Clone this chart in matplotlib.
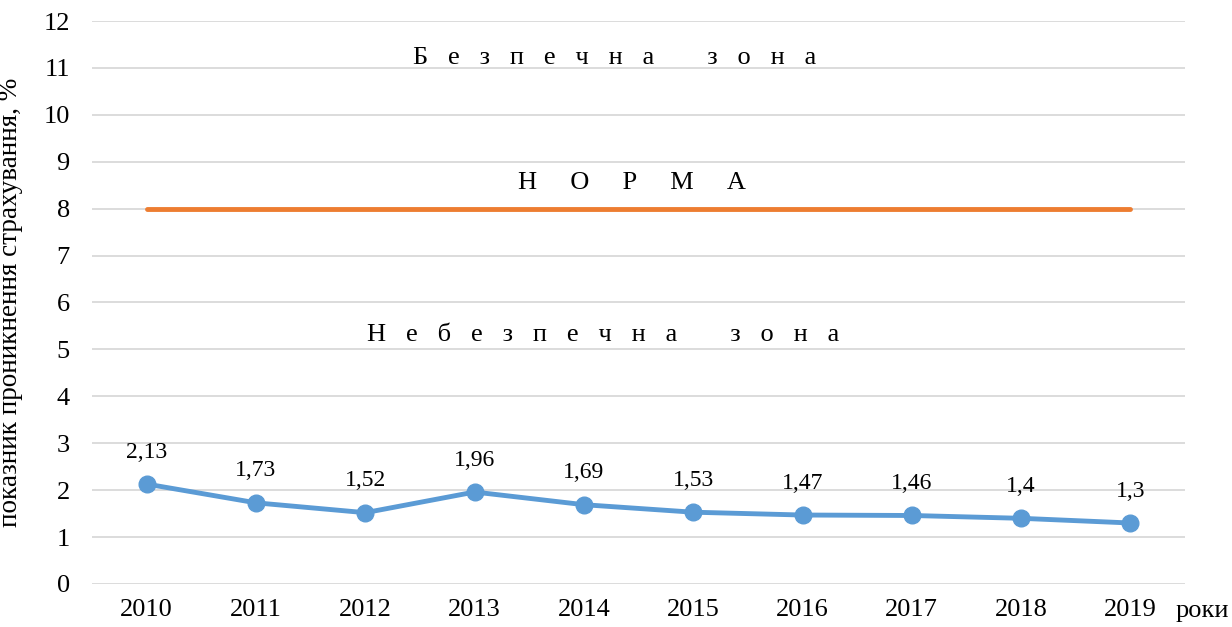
import matplotlib
matplotlib.use("Agg")
import matplotlib.pyplot as plt

years = ["2010", "2011", "2012", "2013", "2014", "2015", "2016", "2017", "2018", "2019"]
values = [2.13, 1.73, 1.52, 1.96, 1.69, 1.53, 1.47, 1.46, 1.4, 1.3]
value_labels = ["2,13", "1,73", "1,52", "1,96", "1,69", "1,53", "1,47", "1,46", "1,4", "1,3"]
norm = [8] * 10
y_ticks = list(range(0, 13))

plt.rcParams['font.family'] = ['Liberation Serif', 'DejaVu Serif']

fig = plt.figure(figsize=(12.32, 6.27), dpi=100)
ax = fig.add_axes([0.0747, 0.0686, 0.8872, 0.8979])

x = list(range(len(years)))
ax.plot(x, norm, color="#ED7D31", lw=3.5, solid_capstyle="round", zorder=3)
ax.plot(x, values, color="#5B9BD5", lw=3.5, marker="o", markersize=12, zorder=4,
        solid_capstyle="round")
for xi, v, lab in zip(x, values, value_labels):
    ax.annotate(lab, (xi, v), xytext=(0, 23), textcoords="offset points",
                ha="center", va="center", fontsize=17, color="#000000")

ax.set_xlim(-0.5, len(years) - 0.5)
ax.set_ylim(0, 12)
ax.set_yticks(y_ticks)
ax.set_xticks(x)
ax.set_xticklabels(years)
ax.tick_params(axis="both", length=0, labelsize=19, colors="#000000")
ax.tick_params(axis="x", pad=11)
ax.tick_params(axis="y", pad=16)
ax.grid(axis="y", color="#D9D9D9", lw=1.3)
ax.set_axisbelow(True)
for s in ax.spines.values():
    s.set_visible(False)

ax.set_ylabel("показник проникнення страхування, %", fontsize=19.5)
ax.yaxis.set_label_coords(-0.063, 0.5)

def spaced(words, gap=3, wgap=8):
    return (" " * wgap).join((" " * gap).join(w) for w in words)

ax.text(4.28, 11.22, spaced(["Безпечна", "зона"]),
        ha="center", va="center", fontsize=19)
ax.text(4.44, 8.55, spaced(["НОРМА"], gap=5),
        ha="center", va="center", fontsize=19)
ax.text(4.18, 5.3, spaced(["Небезпечна", "зона"]),
        ha="center", va="center", fontsize=19)

fig.text(0.9545, 0.0255, "роки", ha="left", va="center", fontsize=19)

fig.savefig("out.png", dpi=100)
